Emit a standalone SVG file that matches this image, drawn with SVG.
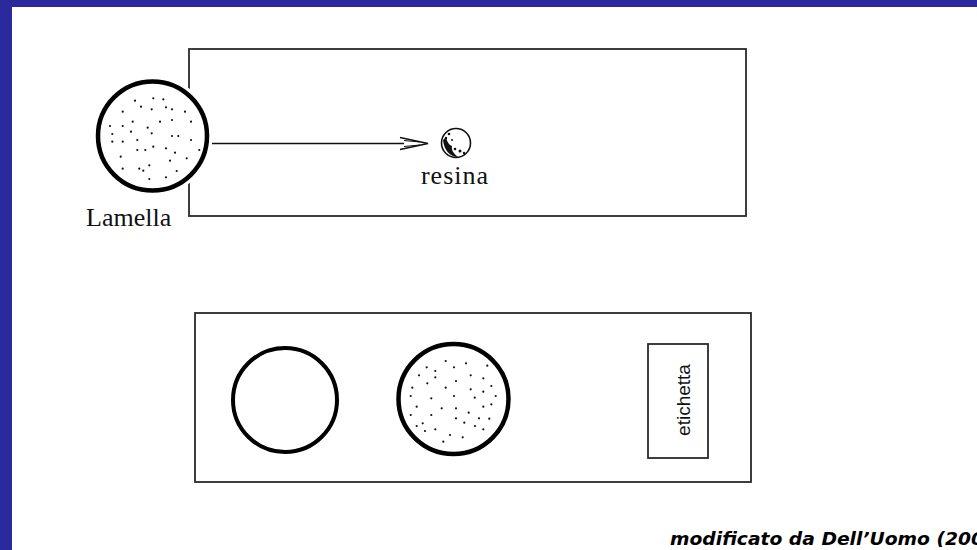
<svg xmlns="http://www.w3.org/2000/svg" width="977" height="550" viewBox="0 0 977 550">
<style>
.frame{fill:none;stroke:#2a2a2a;stroke-width:1.8}
.disc{fill:#fff;stroke:#000;stroke-width:4.5}
.dot{fill:#111}
.serif{font-family:"Liberation Serif","Times New Roman",serif;font-size:26px;fill:#111}
.sans{font-family:"Liberation Sans",Arial,sans-serif;font-size:19px;fill:#111}
.foot{font-family:"DejaVu Sans","Noto Sans",sans-serif;font-size:18px;font-weight:bold;font-style:italic;fill:#000}
</style>
<defs>
<g id="dots1">
<circle cx="135" cy="100.7" r="1.1"/><circle cx="153.3" cy="98.3" r="1.1"/><circle cx="163.3" cy="99.3" r="1.1"/><circle cx="141" cy="106.7" r="1.1"/><circle cx="151.7" cy="109.3" r="1.1"/><circle cx="166" cy="107.3" r="1.1"/><circle cx="172" cy="109.3" r="1.1"/><circle cx="185" cy="111.7" r="1.1"/><circle cx="122.7" cy="111.7" r="1.1"/><circle cx="132.7" cy="121.7" r="1.1"/><circle cx="160" cy="121.7" r="1.1"/><circle cx="172" cy="120" r="1.1"/><circle cx="191" cy="121.7" r="1.1"/><circle cx="110" cy="126" r="1.1"/><circle cx="122.7" cy="126" r="1.1"/><circle cx="147.7" cy="127.7" r="1.1"/><circle cx="131" cy="131.7" r="1.1"/><circle cx="151.7" cy="133.3" r="1.1"/><circle cx="112.3" cy="134" r="1.1"/><circle cx="172" cy="136" r="1.1"/><circle cx="178.3" cy="136" r="1.1"/><circle cx="112.3" cy="141.7" r="1.1"/><circle cx="122.7" cy="141.7" r="1.1"/><circle cx="137.3" cy="140" r="1.1"/><circle cx="191" cy="140" r="1.1"/><circle cx="153.3" cy="146.7" r="1.1"/><circle cx="137.3" cy="150" r="1.1"/><circle cx="145.3" cy="150" r="1.1"/><circle cx="166" cy="148.3" r="1.1"/><circle cx="175" cy="152.7" r="1.1"/><circle cx="199.3" cy="150" r="1.1"/><circle cx="120.7" cy="156.7" r="1.1"/><circle cx="186.7" cy="158.3" r="1.1"/><circle cx="170" cy="160.7" r="1.1"/><circle cx="149.3" cy="165.3" r="1.1"/><circle cx="122.7" cy="168.7" r="1.1"/><circle cx="139.3" cy="168.7" r="1.1"/><circle cx="143.3" cy="170.7" r="1.1"/><circle cx="176.7" cy="171" r="1.1"/><circle cx="149.3" cy="179" r="1.1"/><circle cx="166" cy="177.3" r="1.1"/>
</g>
<g id="dots2">
<circle cx="445.7" cy="361" r="1.1"/><circle cx="466" cy="363.3" r="1.1"/><circle cx="426.7" cy="367.3" r="1.1"/><circle cx="454" cy="367.3" r="1.1"/><circle cx="435.3" cy="371" r="1.1"/><circle cx="487.3" cy="365.7" r="1.1"/><circle cx="419" cy="375.3" r="1.1"/><circle cx="435.3" cy="377.3" r="1.1"/><circle cx="470.7" cy="375.3" r="1.1"/><circle cx="483.3" cy="378.3" r="1.1"/><circle cx="456" cy="381" r="1.1"/><circle cx="427.3" cy="383.3" r="1.1"/><circle cx="412.3" cy="387.7" r="1.1"/><circle cx="445.7" cy="387.7" r="1.1"/><circle cx="470.7" cy="389.3" r="1.1"/><circle cx="483.3" cy="391.7" r="1.1"/><circle cx="491.3" cy="386" r="1.1"/><circle cx="410.7" cy="396" r="1.1"/><circle cx="454" cy="396" r="1.1"/><circle cx="474.7" cy="397.7" r="1.1"/><circle cx="495.7" cy="396" r="1.1"/><circle cx="431.3" cy="398.3" r="1.1"/><circle cx="416.7" cy="406.7" r="1.1"/><circle cx="441.7" cy="408.3" r="1.1"/><circle cx="456" cy="408.3" r="1.1"/><circle cx="468.7" cy="412.7" r="1.1"/><circle cx="483.3" cy="406.7" r="1.1"/><circle cx="491.3" cy="404.3" r="1.1"/><circle cx="410.7" cy="415" r="1.1"/><circle cx="431.3" cy="415" r="1.1"/><circle cx="456" cy="418.3" r="1.1"/><circle cx="479" cy="418.3" r="1.1"/><circle cx="489.3" cy="418.7" r="1.1"/><circle cx="464.3" cy="422.7" r="1.1"/><circle cx="422.7" cy="423.3" r="1.1"/><circle cx="416.7" cy="426" r="1.1"/><circle cx="435.3" cy="429.3" r="1.1"/><circle cx="425" cy="431" r="1.1"/><circle cx="475" cy="426" r="1.1"/><circle cx="483.3" cy="429.3" r="1.1"/><circle cx="450" cy="435" r="1.1"/><circle cx="462.7" cy="437.3" r="1.1"/><circle cx="443.3" cy="441.7" r="1.1"/>
</g>
</defs>
<rect x="0" y="0" width="977" height="550" fill="#fff"/>
<rect x="0" y="0" width="977" height="7" fill="#2a2a9e"/>
<rect x="0" y="0" width="12" height="550" fill="#2a2a9e"/>

<g id="slide-top">
<rect class="frame" x="189" y="49" width="557" height="167"/>
</g>

<g id="connectors">
<line x1="208" y1="143.5" x2="404" y2="143.5" stroke="#111" stroke-width="1.5"/>
<polyline points="400,137.5 428,143.5 400,149.5" fill="none" stroke="#111" stroke-width="1.5"/>
<line x1="404" y1="140.5" x2="420" y2="142" stroke="#111" stroke-width="1.2"/>
<line x1="404" y1="146.5" x2="420" y2="145" stroke="#111" stroke-width="1.2"/>
</g>

<g id="lamella">
<circle cx="152.5" cy="136" r="60" fill="#fff"/>
<circle class="disc" cx="152.5" cy="136" r="54.5"/>
<use href="#dots1" class="dot"/>
<text class="serif" x="86" y="226">Lamella</text>
</g>

<g id="resina">
<circle cx="456" cy="143" r="14.5" fill="#fff" stroke="#111" stroke-width="1.6"/>
<path d="M443,140 C444,150 450,157 458,157 C454,154 451,150 452,146 C449,145 447,142 446,137 Z" fill="#111"/>
<circle cx="449" cy="134" r="1.3" fill="#111"/><circle cx="446" cy="138" r="1.2" fill="#111"/>
<circle cx="460" cy="151" r="1.5" fill="#111"/><circle cx="464" cy="153" r="1.2" fill="#111"/>
<circle cx="455" cy="149" r="1.3" fill="#111"/><circle cx="452" cy="140" r="1" fill="#111"/>
<text class="serif" x="455" y="184" text-anchor="middle" letter-spacing="1">resina</text>
</g>

<g id="slide-bottom">
<rect class="frame" x="195" y="313" width="556" height="169"/>
</g>

<g id="empty-disc">
<circle cx="285" cy="400" r="52" fill="#fff" stroke="#000" stroke-width="4"/>
</g>

<g id="dotted-disc">
<circle class="disc" cx="453.5" cy="399" r="55"/>
<use href="#dots2" class="dot"/>
</g>

<g id="etichetta">
<rect class="frame" x="648" y="344" width="60" height="114"/>
<text class="sans" transform="translate(690,400) rotate(-90)" text-anchor="middle">etichetta</text>
</g>

<text class="foot" x="670" y="545" textLength="314" lengthAdjust="spacingAndGlyphs">modificato da Dell’Uomo (200</text>
</svg>
